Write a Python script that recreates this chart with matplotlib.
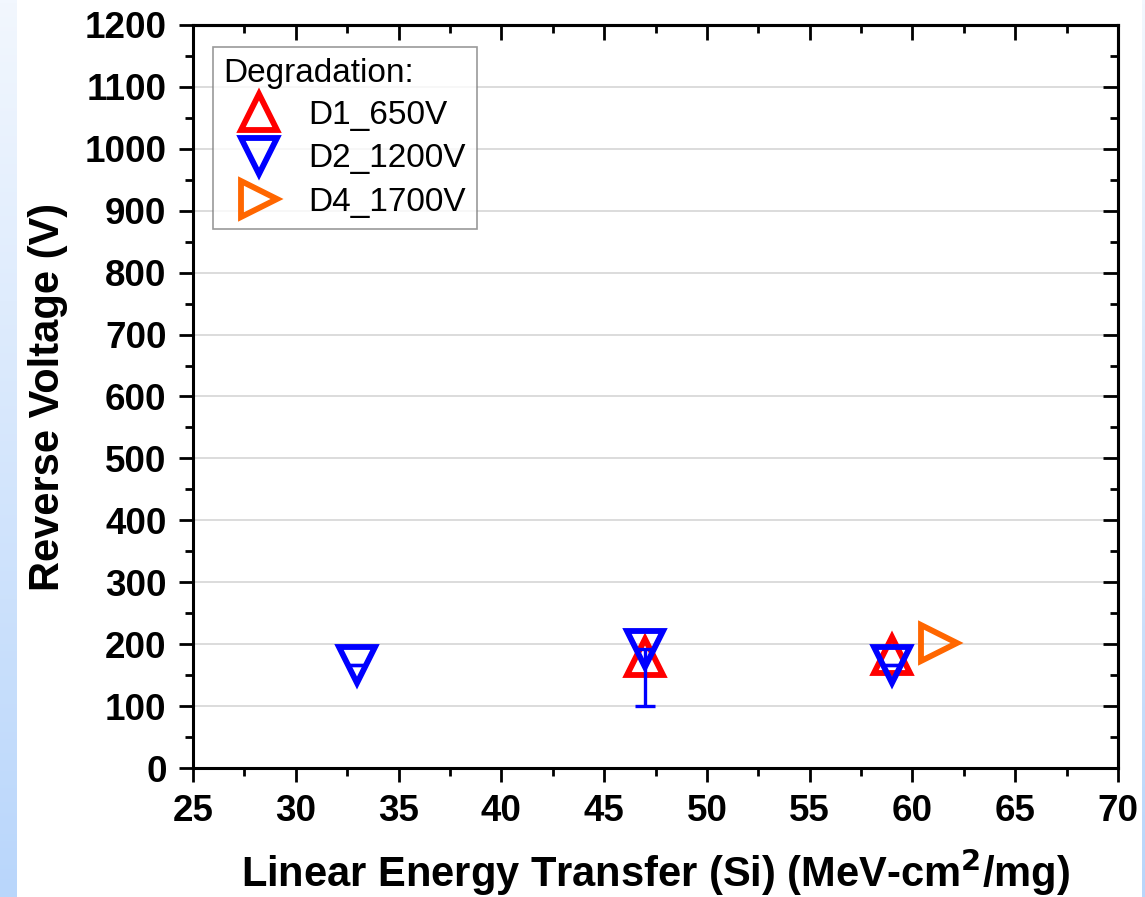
import numpy as np
import matplotlib.pyplot as plt
from matplotlib.colors import LinearSegmentedColormap
from matplotlib.ticker import MultipleLocator

plt.rcParams['font.family'] = ['Liberation Sans', 'DejaVu Sans']

# LET (MeV-cm2/mg) and degradation onset voltage per device
d1_let = [47, 59]
d1_volt = [180, 183]

d2_let = [33, 47, 59]
d2_volt = [166, 192, 166]
d2_err_low = [0, 92, 0]
d2_err_high = [0, 0, 0]

d4_let = [61.3]
d4_volt = [202]

fig = plt.figure(figsize=(11.45, 8.97), dpi=100)

# pale blue slide edges behind the plot
grad = np.linspace(0, 1, 256).reshape(-1, 1)
edge_cmap = LinearSegmentedColormap.from_list('edge', ['#f2f7fe', '#b9d6fb'])
for left, width in [(0.0, 17 / 1145), (1142 / 1145, 3 / 1145)]:
    bg = fig.add_axes([left, 0, width, 1])
    bg.imshow(grad, aspect='auto', cmap=edge_cmap, extent=[0, 1, 0, 1])
    bg.axis('off')

ax = fig.add_axes([193 / 1145, 1 - 768 / 897, 925 / 1145, 743 / 897])

mk = dict(ls='none', ms=26, mfc='none', mew=4.2)
ax.errorbar(d2_let, d2_volt, yerr=[d2_err_low, d2_err_high], fmt='none',
            ecolor='#0000ff', elinewidth=2.4, capsize=7, capthick=2.4, zorder=4)
ax.plot(d1_let, d1_volt, marker='^', mec='#ff0000', label='D1_650V', zorder=3, **mk)
ax.plot(d2_let, d2_volt, marker='v', mec='#0000ff', label='D2_1200V', zorder=4, **mk)
ax.plot(d4_let, d4_volt, marker='>', mec='#ff6600', label='D4_1700V', zorder=3, **mk)

ax.set_xlim(25, 70)
ax.set_ylim(0, 1200)
ax.xaxis.set_major_locator(MultipleLocator(5))
ax.xaxis.set_minor_locator(MultipleLocator(2.5))
ax.yaxis.set_major_locator(MultipleLocator(100))
ax.yaxis.set_minor_locator(MultipleLocator(50))

for y in range(100, 1200, 100):
    ax.axhline(y, color='#d9d9d9', lw=1.3, zorder=0)

for s in ax.spines.values():
    s.set_linewidth(2.2)

ax.tick_params(which='both', direction='out', width=2.0, labelsize=26.5, pad=9)
ax.tick_params(which='major', length=10)
ax.tick_params(which='minor', length=6)
for lbl in ax.get_xticklabels() + ax.get_yticklabels():
    lbl.set_fontweight('bold')

# inward ticks on the top and right edges
tx = ax.secondary_xaxis('top')
tx.xaxis.set_major_locator(MultipleLocator(5))
tx.xaxis.set_minor_locator(MultipleLocator(2.5))
tx.tick_params(which='both', direction='in', width=2.0, labeltop=False)
tx.tick_params(which='major', length=11)
tx.tick_params(which='minor', length=6)
tx.spines['top'].set_linewidth(2.2)
ty = ax.secondary_yaxis('right')
ty.yaxis.set_major_locator(MultipleLocator(100))
ty.yaxis.set_minor_locator(MultipleLocator(50))
ty.tick_params(which='both', direction='in', width=2.0, labelright=False)
ty.tick_params(which='major', length=11)
ty.tick_params(which='minor', length=6)
ty.spines['right'].set_linewidth(2.2)

ax.set_xlabel('Linear Energy Transfer (Si) (MeV-cm$^{\\mathbf{2}}$/mg)', fontsize=30,
              fontweight='bold', labelpad=12)
ax.set_ylabel('Reverse Voltage (V)', fontsize=30, fontweight='bold', labelpad=12)

leg = ax.legend(title='Degradation:', loc='upper left', bbox_to_anchor=(0.0216, 0.9704),
                fontsize=24, title_fontsize=24, frameon=True, fancybox=False,
                edgecolor='#808080', handlelength=2.1, handletextpad=0.45,
                labelspacing=0.38, borderpad=0.32, borderaxespad=0)
leg._legend_box.align = 'left'
leg._legend_box.sep = 8
leg.get_frame().set_linewidth(1.2)

fig.savefig('out.png', dpi=100)
